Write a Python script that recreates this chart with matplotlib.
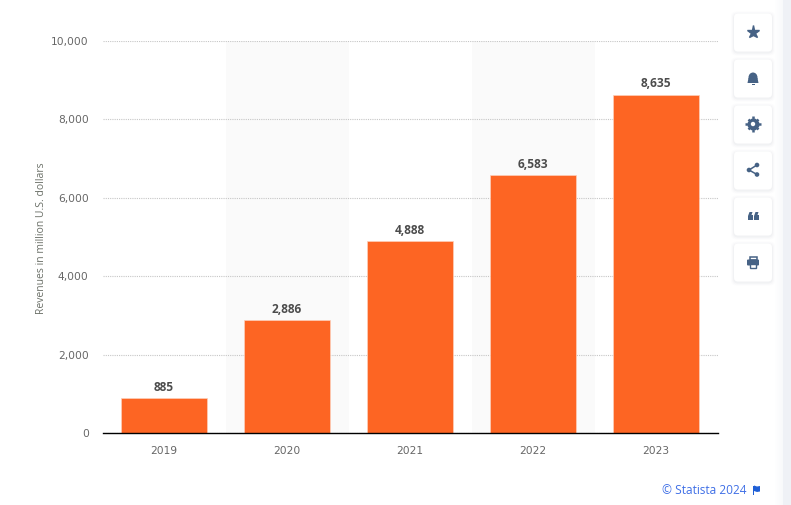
"""
Revenues bar chart with the Statista side buttons.
"""

import matplotlib as mpl
import matplotlib.pyplot as plt
import matplotlib.transforms as mtrans
from matplotlib.patches import Circle, Ellipse, FancyBboxPatch, Rectangle, Polygon

years = ['2019', '2020', '2021', '2022', '2023']
revenues = [885, 2886, 4888, 6583, 8635]
yticks = [0, 2000, 4000, 6000, 8000, 10000]
shaded_years = [1, 3]

W, H = 791, 506
ICON = '#466285'
ORANGE = '#fd6523'


def main():
    mpl.rcParams['font.family'] = ['Open Sans', 'DejaVu Sans']
    fig = plt.figure(figsize=(W / 100, H / 100), dpi=100, facecolor='white')

    page = fig.add_axes([0, 0, 1, 1], zorder=0)
    page.set_xlim(0, W)
    page.set_ylim(H, 0)
    page.axis('off')
    background(page)

    ax = fig.add_axes([102.6 / W, 1 - 434 / H, 615 / W, 392 / H], zorder=1)
    ax.patch.set_alpha(0)
    bars(ax, fig)

    page.text(746, 490.5, '© Statista 2024', color='#3f6fe6', fontsize=8.6,
              ha='right', va='center')
    page.add_patch(Rectangle((753, 486.5), 1, 9, fc='#1f5fd6', ec='none'))
    page.add_patch(Polygon([(754, 486.5), (757, 487.5), (760, 487), (760, 492.5),
                            (757, 493), (754, 492)], fc='#1f5fd6', ec='none'))
    buttons(page)

    fig.savefig('out.png', dpi=100)


def background(ax):
    ax.add_patch(Rectangle((783, 0), 8, H, fc='#eff1f6', ec='none'))
    for i in range(8):
        ax.add_patch(Rectangle((783 - i - 1, 0), 1, H, fc='#f2f4f8',
                               alpha=0.5 - i * 0.06, ec='none'))


def bars(ax, fig):
    x = range(len(years))
    for i in shaded_years:
        ax.axvspan(i - 0.5, i + 0.5, color='#fafafa', lw=0, zorder=0)
    ax.bar(x, revenues, width=0.695, color=ORANGE, edgecolor='#fdd0bb',
           linewidth=0.5, zorder=3)
    for i, v in zip(x, revenues):
        ax.text(i, v + 135, f'{v:,}', ha='center', va='bottom', fontsize=8.6,
                fontweight='bold', color='#4c4c4c')

    ax.set_xlim(-0.5, 4.5)
    ax.set_ylim(0, 10000)
    ax.set_xticks(list(x), years)
    ax.set_yticks(yticks, [f'{t:,}' for t in yticks])
    ax.tick_params(length=0, labelsize=7.7, labelcolor='#666666')
    ax.tick_params(axis='x', pad=9)
    ax.tick_params(axis='y', pad=10)
    up = mtrans.ScaledTranslation(0, 1 / 100, fig.dpi_scale_trans)
    for label in ax.get_xticklabels() + ax.get_yticklabels():
        label.set_family('DejaVu Sans')
    for label in ax.get_yticklabels():
        label.set_transform(label.get_transform() + up)
    ax.grid(axis='y', color='#c6c6c6', linestyle=(0, (1, 1)), linewidth=0.8,
            zorder=1)
    ax.set_axisbelow(True)
    for name in ['top', 'left', 'right']:
        ax.spines[name].set_visible(False)
    ax.spines['bottom'].set_color('black')
    ax.spines['bottom'].set_linewidth(1)
    ax.spines['bottom'].set_zorder(4)
    ax.set_ylabel('Revenues in million U.S. dollars', fontsize=7.5, color='#6b7068')
    ax.yaxis.set_label_coords((47 - 103) / 615, 0.5)


def buttons(ax):
    tops = [14.5, 60.5, 106.5, 152.5, 198.5, 244.5]
    for top in tops:
        for grow, alpha in [(3, 0.012), (2, 0.02), (1, 0.03)]:
            ax.add_patch(FancyBboxPatch((734 - grow, top + 1 - grow), 38 + 2 * grow,
                                        38 + 2 * grow, boxstyle='round,pad=0,rounding_size=5',
                                        fc='#30405a', alpha=alpha, ec='none'))
        ax.add_patch(FancyBboxPatch((734, top), 38, 38,
                                    boxstyle='round,pad=0,rounding_size=4',
                                    fc='white', ec='none'))

    # star
    ax.plot(753, 33, marker='*', ms=9.5, color=ICON, mec=ICON, ls='none')
    # bell
    ax.add_patch(Ellipse((753, 78.5), 9, 10, fc=ICON, ec='none'))
    ax.add_patch(Polygon([(747.5, 84), (748.5, 79), (757.5, 79), (758.5, 84)],
                         fc=ICON, ec='none'))
    ax.add_patch(Rectangle((751.5, 84.8), 3, 0.8, fc=ICON, ec='none'))
    # gear
    ax.plot(753, 125, marker='8', ms=8.5, color=ICON, ls='none')
    ax.plot(753, 125, marker='+', ms=11, mew=1.8, color=ICON, ls='none')
    ax.plot(753, 125, marker='x', ms=7.5, mew=1.8, color=ICON, ls='none')
    ax.add_patch(Circle((753, 125), 2.2, fc='white', ec='none', zorder=5))
    # share
    ax.plot([757, 749, 757], [166, 171, 175.5], color=ICON, lw=1.1)
    for cx, cy in [(757, 166), (749, 171), (757, 175.5)]:
        ax.add_patch(Circle((cx, cy), 2.3, fc=ICON, ec='none'))
    # quotes
    for left in [748, 754]:
        ax.add_patch(Polygon([(left, 217), (left + 1.5, 213), (left + 4.5, 213),
                              (left + 3.5, 216), (left + 5, 216), (left + 5, 221),
                              (left, 221)], fc=ICON, ec='none'))
    # printer
    ax.add_patch(Rectangle((749.5, 257.5), 7, 3, fc='none', ec=ICON, lw=1.1))
    ax.add_patch(FancyBboxPatch((747, 260.5), 12, 6, boxstyle='round,pad=0,rounding_size=1',
                                fc=ICON, ec='none'))
    ax.add_patch(Rectangle((750, 264.5), 6, 4, fc='white', ec=ICON, lw=1))


if __name__ == '__main__':
    main()
